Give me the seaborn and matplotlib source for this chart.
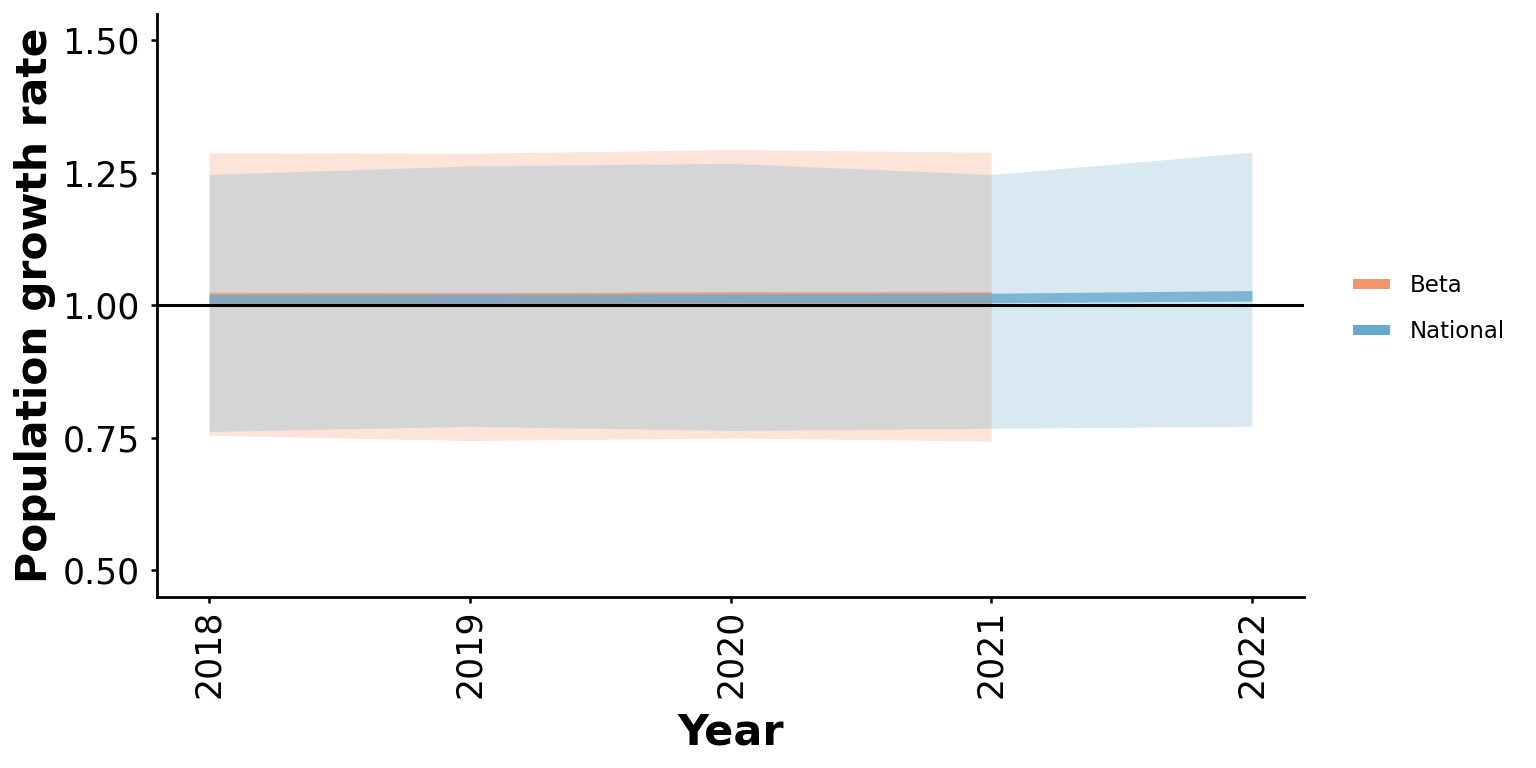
import numpy as np
import pandas as pd
import matplotlib
matplotlib.use("Agg")
import matplotlib.pyplot as plt
from matplotlib.lines import Line2D
import seaborn as sns

# values
beta_years = [2018, 2019, 2020, 2021]
beta_outer_lo = [0.755, 0.745, 0.750, 0.744]
beta_outer_hi = [1.288, 1.287, 1.294, 1.289]
beta_inner_lo = [1.003, 1.003, 1.004, 1.003]
beta_inner_hi = [1.025, 1.024, 1.026, 1.026]

nat_years = [2018, 2019, 2020, 2021, 2022]
nat_outer_lo = [0.762, 0.772, 0.764, 0.768, 0.772]
nat_outer_hi = [1.247, 1.263, 1.268, 1.247, 1.289]
nat_inner_lo = [1.004, 1.004, 1.005, 1.005, 1.008]
nat_inner_hi = [1.021, 1.021, 1.022, 1.023, 1.028]

series = ["Beta", "National"]
colors = {"Beta": "#f4956a", "National": "#67a9cf"}

beta = pd.DataFrame({"Year": beta_years, "lo": beta_outer_lo, "hi": beta_outer_hi,
                     "ilo": beta_inner_lo, "ihi": beta_inner_hi})
nat = pd.DataFrame({"Year": nat_years, "lo": nat_outer_lo, "hi": nat_outer_hi,
                    "ilo": nat_inner_lo, "ihi": nat_inner_hi})
frames = {"Beta": beta, "National": nat}

sns.set_theme(style="ticks")
plt.rcParams["font.family"] = ["DejaVu Sans"]

fig = plt.figure(figsize=(15.36, 7.68), dpi=100)
ax = fig.add_axes([0.1022, 0.2227, 0.7468, 0.7593])

# wide ribbons first, then the narrow ones on top
for name in series:
    d = frames[name]
    ax.fill_between(d["Year"], d["lo"], d["hi"], color=colors[name], alpha=0.25, lw=0)
for name in series:
    d = frames[name]
    ax.fill_between(d["Year"], d["ilo"], d["ihi"], color=colors[name], alpha=0.8, lw=0)

ax.axhline(1.0, color="black", lw=2.2)

ax.set_xlim(2017.8, 2022.2)
ax.set_ylim(0.45, 1.55)
ax.set_xticks(nat_years)
ax.set_xticklabels([str(y) for y in nat_years], rotation=90)
ax.set_yticks([0.5, 0.75, 1.0, 1.25, 1.5])
ax.set_yticklabels(["0.50", "0.75", "1.00", "1.25", "1.50"])
ax.tick_params(axis="both", labelsize=25, length=4, width=1.8, color="black", labelcolor="black")
ax.tick_params(axis="y", pad=8.5)
ax.tick_params(axis="x", pad=5)

ax.set_xlabel("Year", fontsize=31, fontweight="bold", color="black")
ax.set_ylabel("Population growth rate", fontsize=30.5, fontweight="bold", color="black")
ax.xaxis.set_label_coords(0.5, -0.196)
ax.yaxis.set_label_coords(-0.088, 0.5)

sns.despine(ax=ax)
for s in ["left", "bottom"]:
    ax.spines[s].set_linewidth(2)
    ax.spines[s].set_color("black")

handles = [Line2D([0], [0], color=colors[n], lw=7.2, solid_capstyle="butt") for n in series]
leg = ax.legend(handles, series, loc="center left", bbox_to_anchor=(1.035, 0.495),
                frameon=False, fontsize=16.5, handlelength=1.6, handletextpad=0.87,
                labelspacing=1.0, borderaxespad=0)
for t in leg.get_texts():
    t.set_color("black")

fig.savefig("out.png", dpi=100)
